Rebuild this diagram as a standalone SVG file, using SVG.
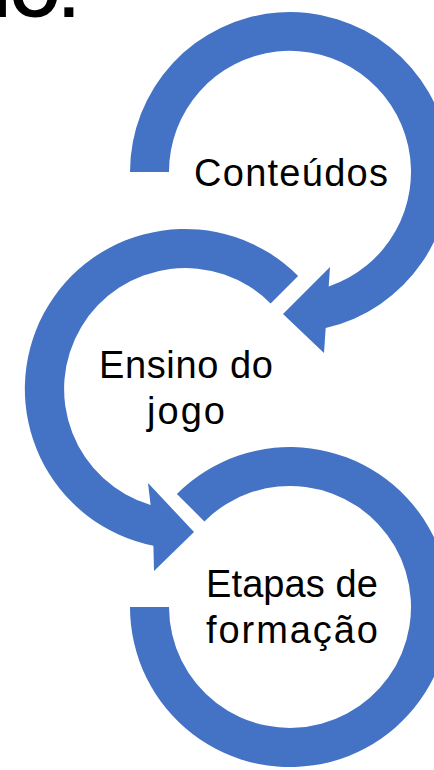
<svg xmlns="http://www.w3.org/2000/svg" width="434" height="770" viewBox="0 0 434 770">
  <style>
    .arc { fill: #4472C4; stroke: none; }
    .lbl { font-family: "Liberation Sans", Arial, sans-serif; font-size: 38px; fill: #000000; text-anchor: middle; }
    .title { font-family: "Liberation Sans", Arial, sans-serif; font-size: 64px; font-weight: bold; fill: #000000; }
  </style>
  <rect x="0" y="0" width="434" height="770" fill="#ffffff"/>
  <g id="title">
    <text class="title" x="-36" y="17">NO.</text>
  </g>
  <g id="node-conteudos">
    <path class="arc" d="M130,172 A160,160 0 1 1 325.7,328 L324,353 L283,314 L330,267 L328.7,286.5 A121,121 0 1 0 169,172 Z"/>
    <text class="lbl" x="291" y="186" textLength="194">Conteúdos</text>
  </g>
  <g id="node-ensino">
    <path class="arc" d="M298.1,275.9 A160,160 0 1 0 153.4,545.8 L154,571 L194,532 L148,483 L150.6,505 A121,121 0 1 1 270.6,303.4 Z"/>
    <text class="lbl" x="186" y="378" textLength="174">Ensino do</text>
    <text class="lbl" x="186" y="424" textLength="78">jogo</text>
  </g>
  <g id="node-etapas">
    <path class="arc" d="M176.9,493.9 A160,160 0 1 1 130,607 L169,607 A121,121 0 1 0 204.4,521.4 Z"/>
    <text class="lbl" x="292" y="597" textLength="172">Etapas de</text>
    <text class="lbl" x="292" y="643" textLength="172">formação</text>
  </g>
  <g id="connectors"></g>
</svg>
